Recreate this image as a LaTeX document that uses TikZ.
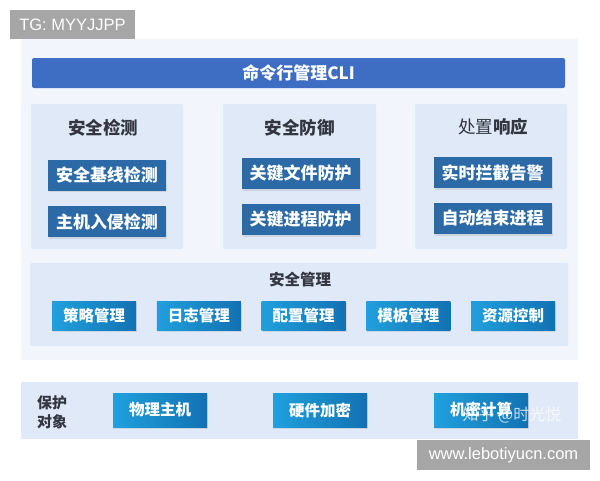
\documentclass[tikz,border=0pt]{standalone}
\usepackage{fontspec}
\setmainfont{Noto Sans CJK SC}
\newfontfamily\wmfont{Liberation Sans}
\usepackage{tikz}
\usetikzlibrary{shadows}

\definecolor{outerbg}{HTML}{F2F6FC}
\definecolor{panelbg}{HTML}{DFE9F7}
\definecolor{clibar}{HTML}{3E6DC4}
\definecolor{darkbox}{HTML}{2B6AA7}
\definecolor{cyanlight}{HTML}{20A0DD}
\definecolor{cyandeep}{HTML}{1272B3}
\definecolor{titletext}{HTML}{333640}
\definecolor{wmgray}{HTML}{A6A6A6}

\begin{document}
\begin{tikzpicture}[x=1pt,y=-1pt]
\tikzstyle{panel}=[fill=panelbg,draw=none,rounded corners=2pt,inner sep=0pt]
\tikzstyle{title}=[text=titletext,font=\bfseries\fontsize{17.5}{20}\selectfont,inner sep=0pt]
\tikzstyle{func}=[fill=darkbox,text=white,font=\bfseries\fontsize{17}{20}\selectfont,minimum width=118pt,minimum height=31pt,inner sep=0pt,
  drop shadow={shadow xshift=1pt,shadow yshift=-1.5pt,opacity=0.2}]
\tikzstyle{mgmt}=[left color=cyanlight,right color=cyandeep,text=white,font=\bfseries\fontsize{15.5}{18}\selectfont,inner sep=0pt,
  drop shadow={shadow xshift=1pt,shadow yshift=-1.5pt,opacity=0.2}]
\tikzstyle{wmbox}=[fill=wmgray,text=white,font=\wmfont\fontsize{16.5}{19}\selectfont,inner sep=0pt]
% end of definitions
\useasboundingbox[fill=white] (0,0) rectangle (600,480);
\fill[outerbg] (21,39) rectangle (578,360); %background
\node (tg) [wmbox,minimum width=125pt,minimum height=29pt] at (72.5,24.5) {TG: MYYJJPP};
\node (cli) [fill=clibar,rounded corners=2pt,text=white,font=\bfseries\fontsize{17}{20}\selectfont,minimum width=533pt,minimum height=30pt,inner sep=0pt] at (298.5,73) {命令行管理CLI};
% three columns
\node (detect) [panel,minimum width=152pt,minimum height=145pt] at (107,176.5) {};
\node (defend) [panel,minimum width=153pt,minimum height=145pt] at (299.5,176.5) {};
\node (respond) [panel,minimum width=152pt,minimum height=145pt] at (491,176.5) {};
\node (detecttitle) [title] at (103,128) {安全检测};
\node (defendtitle) [title] at (299.5,128) {安全防御};
\node (respondtitle) [title] at (493,127) {{\mdseries 处置}响应};
\node (baseline) [func] at (107,175) {安全基线检测};
\node (intrusion) [func] at (107,221.5) {主机入侵检测};
\node (fileprot) [func] at (300.5,173.5) {关键文件防护};
\node (procprot) [func] at (300.5,219.5) {关键进程防护};
\node (block) [func] at (492.5,172.5) {实时拦截告警};
\node (kill) [func] at (492.5,218.5) {自动结束进程};
% security management
\node (manage) [panel,minimum width=538pt,minimum height=83pt] at (299,304.5) {};
\node (managetitle) [title,font=\bfseries\fontsize{15.5}{18}\selectfont] at (300,280) {安全管理};
\foreach \name/\label [count=\i from 0] in {policy/策略管理,log/日志管理,config/配置管理,template/模板管理,resource/资源控制}
  \node (\name) [mgmt,minimum width=84pt,minimum height=29pt] at (94+104.75*\i,315.5) {\label};
% protected objects
\node (objects) [panel,rounded corners=0pt,minimum width=557pt,minimum height=57pt] at (299.5,410.5) {};
\node (objectslabel) [text=titletext,font=\bfseries\fontsize{15}{15}\selectfont,align=left,inner sep=0pt] at (52,412.5) {保护\\[4pt]对象};
\node (host) [mgmt,minimum width=94pt,minimum height=34pt] at (160,410) {物理主机};
\node (hwcrypt) [mgmt,minimum width=94pt,minimum height=34pt] at (320,410) {硬件加密};
\node (confcomp) [mgmt,minimum width=94pt,minimum height=34pt] at (481,410) {机密计算};
\node (zhihu) [text=white,opacity=0.75,font=\fontsize{16}{18}\selectfont,inner sep=0pt] at (512,415) {知乎 @时光悦};
\node (url) [wmbox,minimum width=173pt,minimum height=30pt] at (503.5,455) {www.lebotiyucn.com};
\end{tikzpicture}
\end{document}
